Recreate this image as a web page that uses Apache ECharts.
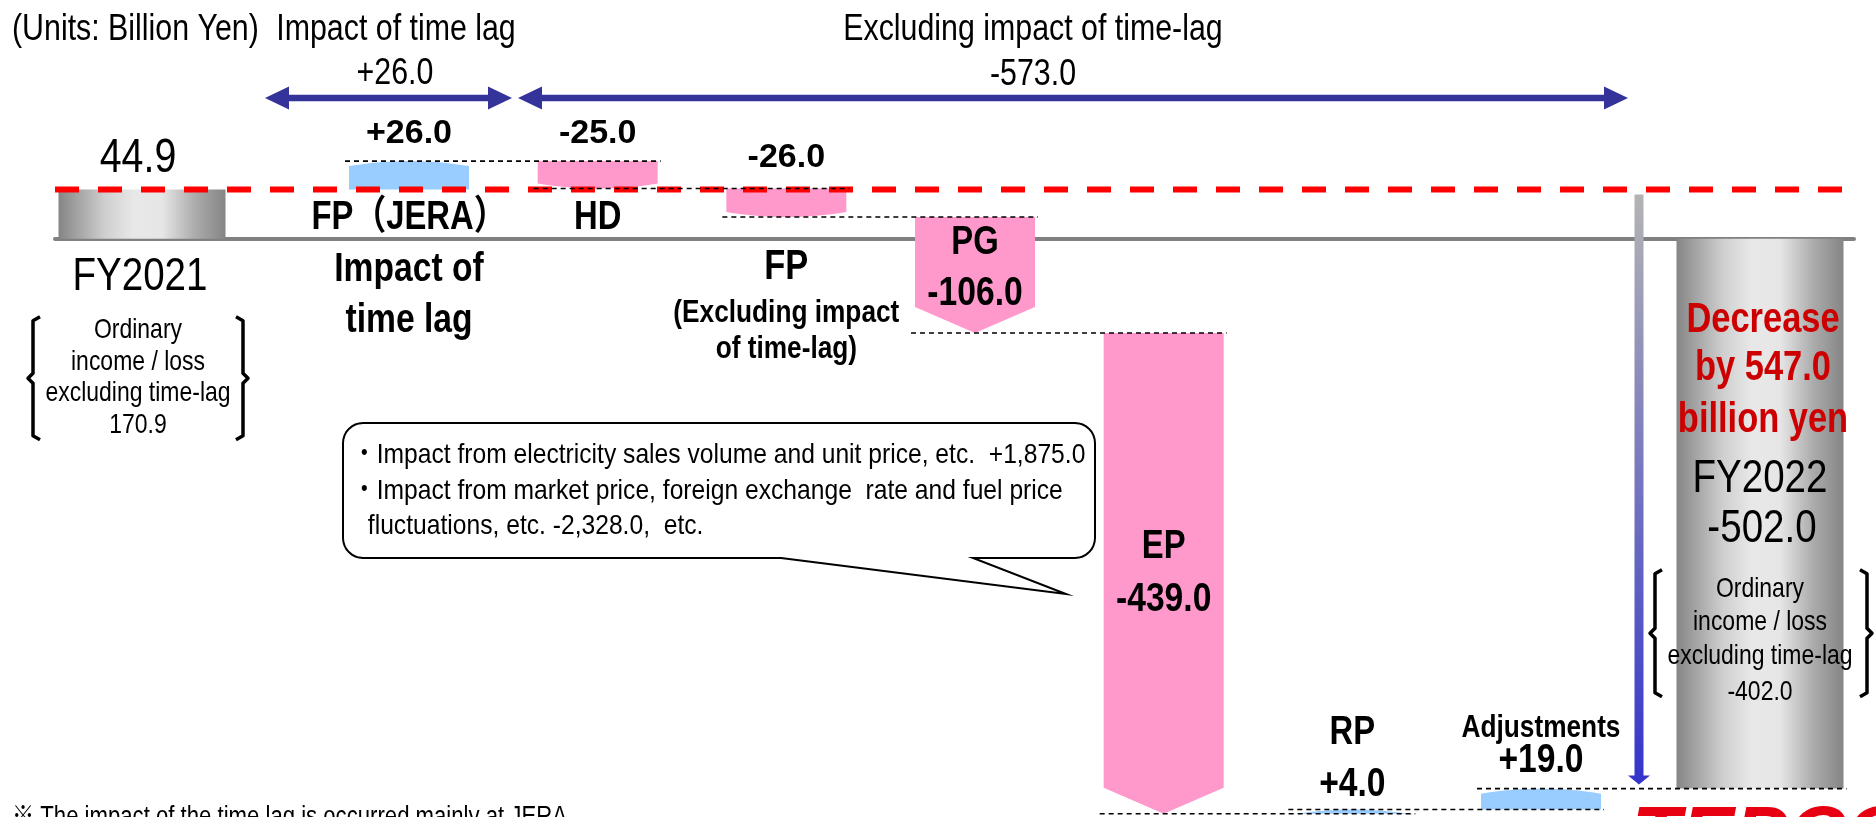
<!DOCTYPE html>
<html><head><meta charset="utf-8">
<script src="https://cdn.jsdelivr.net/npm/echarts@6.0.0/dist/echarts.min.js"></script>
<style>html,body{margin:0;padding:0;background:#fff}#c{width:1876px;height:817px}</style>
</head><body><div id="c"></div>
<script>
// ---------------- data ----------------
const totalCategories = ['FY2021', 'FY2022'];
const totalValues = [44.9, -502.0];
const totalExclTimeLag = [170.9, -402.0];
const stepCategories = ['FP（JERA）', 'HD', 'FP', 'PG', 'EP', 'RP', 'Adjustments'];
const stepValues = [26.0, -25.0, -26.0, -106.0, -439.0, 4.0, 19.0];
const stepNotes = [['Impact of', 'time lag'], [], ['(Excluding impact', 'of time-lag)'], [], [], [], []];
const yearChange = -547.0;
const calloutValues = [1875.0, -2328.0];
const bracketLines = ['Ordinary', 'income / loss', 'excluding time-lag'];
const yRange = [-528, 218];

// ---------------- helpers ----------------
const FONT = "'Liberation Sans', Arial, 'Noto Sans CJK JP', sans-serif";
const NARROW_SCALE = 0.82;
const PINK = '#FF99CC', BLUE = '#99CCFF', NAVY = '#333399';
const fmtSigned = v => (v > 0 ? '+' : v < 0 ? '-' : '') + Math.abs(v).toFixed(1);
const fmtPlain = v => v.toFixed(1);
const fmtThousands = v => (v > 0 ? '+' : '-') + Math.abs(v).toFixed(1).replace(/\B(?=(\d{3})+(?!\d))/g, ',');

const stepStart = [], stepEnd = [];
(function () {
  let run = totalValues[0];
  stepValues.forEach(v => { stepStart.push(run); run = Math.round((run + v) * 10) / 10; stepEnd.push(run); });
})();
const timeLagImpact = stepValues[0];
const exclTimeLagImpact = stepValues.slice(1).reduce((a, b) => a + b, 0);

function T(text, x, y, size, o) {
  o = o || {};
  return {
    type: 'text', z2: 50, silent: true,
    x: x, y: y, scaleX: o.wide ? 1 : (o.sx || NARROW_SCALE), scaleY: 1, originX: 0, originY: 0,
    style: {
      text: text, x: 0, y: 0, fill: o.color || '#000',
      fontSize: size, fontFamily: FONT,
      fontWeight: o.bold ? 'bold' : 'normal', fontStyle: o.italic ? 'italic' : 'normal',
      textAlign: o.align || 'center', align: o.align || 'center',
      textVerticalAlign: o.valign || 'middle', verticalAlign: o.valign || 'middle'
    }
  };
}
function bracket(x, top, bot, side) { // side -1 = left, +1 = right
  const mid = (top + bot) / 2, s = -side;
  return {
    type: 'polyline', z2: 40, silent: true,
    shape: { points: [[x + s * 7, top], [x, top + 4], [x, mid - 5], [x + side * 5, mid], [x, mid + 5], [x, bot - 4], [x + s * 7, bot]] },
    style: { stroke: '#000', lineWidth: 3.5, fill: null, lineJoin: 'round' }
  };
}

const STEP_HALF = 60, TOTAL_HALF = 83.5, HEAD = 26, BULGE = 5;
const F = {
  val: { size: 34, bold: true, wide: true },
  nb32: { size: 32, bold: true }, nb40: { size: 40, bold: true },
  nb41: { size: 41, bold: true }, nb42: { size: 42, bold: true }
};
const ARROW_STEPS = ['PG', 'EP'];
const STEP_LABEL_LAYOUT = [
  [['value', 'val', 'top', -27], ['name', 'nb40', 'zero', -21], [0, 'nb41', 'zero', 31], [1, 'nb41', 'zero', 82]],
  [['value', 'val', 'top', -27], ['name', 'nb40', 'zero', -21]],
  [['value', 'val', 'top', -31], ['name', 'nb42', 'zero', 29], [0, 'nb32', 'zero', 74], [1, 'nb32', 'zero', 110]],
  [['name', 'nb40', 'top', 26], ['value', 'nb41', 'top', 77]],
  [['name', 'nb40', 'top', 214], ['value', 'nb41', 'top', 267]],
  [['name', 'nb40', 'top', -76], ['value', 'nb41', 'top', -25]],
  [['name', 'nb32', 'top', -60], ['value', 'nb41', 'top', -28]]
];

function renderStep(params, api) {
  const i = api.value(0), s = api.value(1), e = api.value(2);
  const ps = api.coord([i, s]), pe = api.coord([i, e]);
  const x = ps[0], ys = ps[1], ye = pe[1], hw = STEP_HALF;
  const dir = ye > ys ? 1 : -1;
  const color = e > s ? BLUE : PINK;
  const children = [];
  let pts;
  if (ARROW_STEPS.indexOf(stepCategories[i]) >= 0) {
    const hb = ye - dir * HEAD;
    pts = [[x - hw, ys], [x + hw, ys], [x + hw, hb], [x, ye], [x - hw, hb]];
  } else {
    pts = [[x - hw, ys], [x + hw, ys]];
    for (let k = 0; k <= 16; k++) {
      const t = k / 16;
      pts.push([x + hw - 2 * hw * t, ye - dir * BULGE * (1 - 4 * t * (1 - t))]);
    }
  }
  children.push({ type: 'polygon', shape: { points: pts }, style: { fill: color } });
  const yZero = api.coord([i, 0])[1], yTop = Math.min(ys, ye);
  STEP_LABEL_LAYOUT[i].forEach(l => {
    const txt = l[0] === 'name' ? stepCategories[i] : l[0] === 'value' ? fmtSigned(stepValues[i]) : stepNotes[i][l[0]];
    const f = F[l[1]];
    const y = (l[2] === 'top' ? yTop : yZero) + l[3];
    children.push(T(txt, x, y, f.size, f));
  });
  return { type: 'group', children: children };
}

function renderConnector(params, api) {
  const i = api.value(0), e = api.value(2);
  const pe = api.coord([i, e]);
  const x0 = pe[0] - STEP_HALF - 4;
  let x1;
  if (i < stepCategories.length - 1) {
    x1 = api.coord([i + 1, e])[0] + STEP_HALF + 3;
  } else {
    let p = null;
    try { p = chart.convertToPixel({ xAxisIndex: 1, yAxisIndex: 1 }, [totalCategories[1], e]); } catch (err) { p = null; }
    x1 = (p && isFinite(p[0])) ? p[0] + TOTAL_HALF + 3 : pe[0] + 307;
  }
  return {
    type: 'line', shape: { x1: x0, y1: pe[1], x2: x1, y2: pe[1] },
    style: { stroke: '#000', lineWidth: 1.6, lineDash: [5, 4] }
  };
}

function grayGrad() {
  return new echarts.graphic.LinearGradient(0, 0, 1, 0, [
    { offset: 0, color: '#858585' }, { offset: 0.28, color: '#CFCFCF' },
    { offset: 0.45, color: '#E8E8E8' }, { offset: 0.62, color: '#E6E6E6' },
    { offset: 0.82, color: '#ABABAB' }, { offset: 1, color: '#858585' }
  ]);
}

function renderTotal(params, api) {
  const i = api.value(0), v = api.value(1);
  const pz = api.coord([i, 0]), pv = api.coord([i, v]);
  const x = pz[0], yZ = pz[1], yV = pv[1];
  const top = Math.min(yZ, yV), h = Math.abs(yV - yZ);
  const ch = [{ type: 'rect', shape: { x: x - TOTAL_HALF, y: top, width: TOTAL_HALF * 2, height: h }, style: { fill: grayGrad() } }];
  const blk = bracketLines.concat([fmtPlain(totalExclTimeLag[i])]);
  if (i === 0) {
    ch.push(T(fmtPlain(v), x - 4, yV - 31, 48));
    ch.push(T(totalCategories[i], x - 2, yZ + 38, 47));
    [92, 124, 155, 187].forEach((dy, k) => ch.push(T(blk[k], x - 4, yZ + dy, 28)));
    ch.push(bracket(x - 109, yZ + 78, yZ + 201, -1));
    ch.push(bracket(x + 101, yZ + 78, yZ + 201, 1));
  } else {
    const red = { bold: true, color: '#CC0000' };
    const chg = ['Decrease', 'by ' + Math.abs(yearChange).toFixed(1), 'billion yen'];
    [82, 130, 182].forEach((dy, k) => ch.push(T(chg[k], x + 3, yZ + dy, 42, red)));
    ch.push(T(totalCategories[i], x, yZ + 240, 47));
    ch.push(T(fmtPlain(v), x + 2, yZ + 290, 47));
    [351, 384, 418, 454].forEach((dy, k) => ch.push(T(blk[k], x, yZ + dy, 28)));
    ch.push(bracket(x - 105, yZ + 331, yZ + 458, -1));
    ch.push(bracket(x + 107, yZ + 331, yZ + 458, 1));
    // decrease arrow from FY2021 level down to FY2022 level
    const ax = x - 121;
    const yt = api.coord([i, totalValues[0]])[1] + 5, yb = yV - 4;
    ch.push({
      type: 'polygon', z2: 30,
      shape: { points: [[ax - 4.5, yt], [ax + 4.5, yt], [ax + 4.5, yb - 9], [ax + 11, yb - 9], [ax, yb], [ax - 11, yb - 9], [ax - 4.5, yb - 9]] },
      style: { fill: new echarts.graphic.LinearGradient(0, 0, 0, 1, [{ offset: 0, color: '#B4B4B4' }, { offset: 1, color: '#3333CC' }]) }
    });
  }
  return { type: 'group', children: ch };
}

function calloutPoints(x0, y0, x1, y1, r, xl, xr, tx, ty) {
  const p = [];
  const arc = (cx, cy, a0, a1) => { for (let k = 0; k <= 8; k++) { const a = (a0 + (a1 - a0) * k / 8) * Math.PI / 180; p.push([cx + r * Math.cos(a), cy + r * Math.sin(a)]); } };
  arc(x1 - r, y0 + r, -90, 0);
  arc(x1 - r, y1 - r, 0, 90);
  p.push([xr, y1], [tx, ty], [xl, y1]);
  arc(x0 + r, y1 - r, 90, 180);
  arc(x0 + r, y0 + r, 180, 270);
  return p;
}
function dblArrow(xa, xb, y) {
  return {
    type: 'polygon', z: 10, silent: true,
    shape: { points: [[xa, y], [xa + 24, y - 11.5], [xa + 24, y - 3.2], [xb - 24, y - 3.2], [xb - 24, y - 11.5], [xb, y], [xb - 24, y + 11.5], [xb - 24, y + 3.2], [xa + 24, y + 3.2], [xa + 24, y + 11.5]] },
    style: { fill: NAVY }
  };
}
function G(el) { el.z = 10; return el; }
const CALLOUT = { align: 'left', sx: 0.88 };

const chart = echarts.init(document.getElementById('c'), null, { renderer: 'canvas' });
const option = {
  animation: false,
  backgroundColor: '#fff',
  grid: [
    { left: 55, right: 22, top: 0, bottom: 0 },
    { left: 142, right: 116, top: 0, bottom: 0 },
    { left: 409, right: 335, top: 0, bottom: 0 }
  ],
  xAxis: [
    { gridIndex: 0, type: 'value', min: 0, max: 1, axisLine: { show: true, onZero: true, lineStyle: { color: '#808080', width: 4 } }, axisTick: { show: false }, axisLabel: { show: false }, splitLine: { show: false } },
    { gridIndex: 1, type: 'category', data: totalCategories, boundaryGap: false, show: false },
    { gridIndex: 2, type: 'category', data: stepCategories, boundaryGap: false, show: false }
  ],
  yAxis: [0, 1, 2].map(g => ({ gridIndex: g, type: 'value', min: yRange[0], max: yRange[1], show: false, splitLine: { show: false } })),
  series: [
    {
      type: 'line', xAxisIndex: 0, yAxisIndex: 0, z: 3, silent: true, symbol: 'none',
      data: [[0, totalValues[0]], [1, totalValues[0]]],
      lineStyle: { color: '#FF0000', width: 6, type: [24, 19], cap: 'butt' }
    },
    {
      type: 'custom', xAxisIndex: 1, yAxisIndex: 1, z: 2, silent: true,
      data: totalValues.map((v, i) => [i, v]), encode: { x: 0, y: 1 }, renderItem: renderTotal
    },
    {
      type: 'custom', xAxisIndex: 2, yAxisIndex: 2, z: 2, silent: true,
      data: stepCategories.map((c, i) => [i, stepStart[i], stepEnd[i]]), encode: { x: 0, y: [1, 2] }, renderItem: renderStep
    },
    {
      type: 'custom', xAxisIndex: 2, yAxisIndex: 2, z: 4, silent: true,
      data: stepCategories.map((c, i) => [i, stepStart[i], stepEnd[i]]), encode: { x: 0, y: [1, 2] }, renderItem: renderConnector
    }
  ],
  graphic: { elements: [
    G(T('(Units: Billion Yen)', 12, 30, 37, { align: 'left' })),
    G(T('Impact of time lag', 396, 30, 37)),
    G(T(fmtSigned(timeLagImpact), 395, 74, 37)),
    G(T('Excluding impact of time-lag', 1033, 30, 37)),
    G(T(fmtSigned(exclTimeLagImpact), 1033, 75, 37)),
    dblArrow(265, 512, 98),
    dblArrow(518, 1628, 98),
    { type: 'polygon', z: 10, silent: true, shape: { points: calloutPoints(343, 423, 1095, 558, 20, 781, 973, 1066, 594) }, style: { fill: '#fff', stroke: '#000', lineWidth: 2 } },
    G(T('・Impact from electricity sales volume and unit price, etc.  ' + fmtThousands(calloutValues[0]), 352, 455, 28, CALLOUT)),
    G(T('・Impact from market price, foreign exchange  rate and fuel price', 352, 491, 28, CALLOUT)),
    G(T(' fluctuations, etc. ' + fmtThousands(calloutValues[1]) + ',  etc.', 361, 526, 28, CALLOUT)),
    G(T('※ The impact of the time lag is occurred mainly at JERA.', 12, 818, 27, { align: 'left' })),
    G(T('TEPCO', 1632, 840, 80, { align: 'left', bold: true, italic: true, color: '#E60012', wide: true }))
  ] }
};
chart.setOption(option);
</script>
</body></html>
